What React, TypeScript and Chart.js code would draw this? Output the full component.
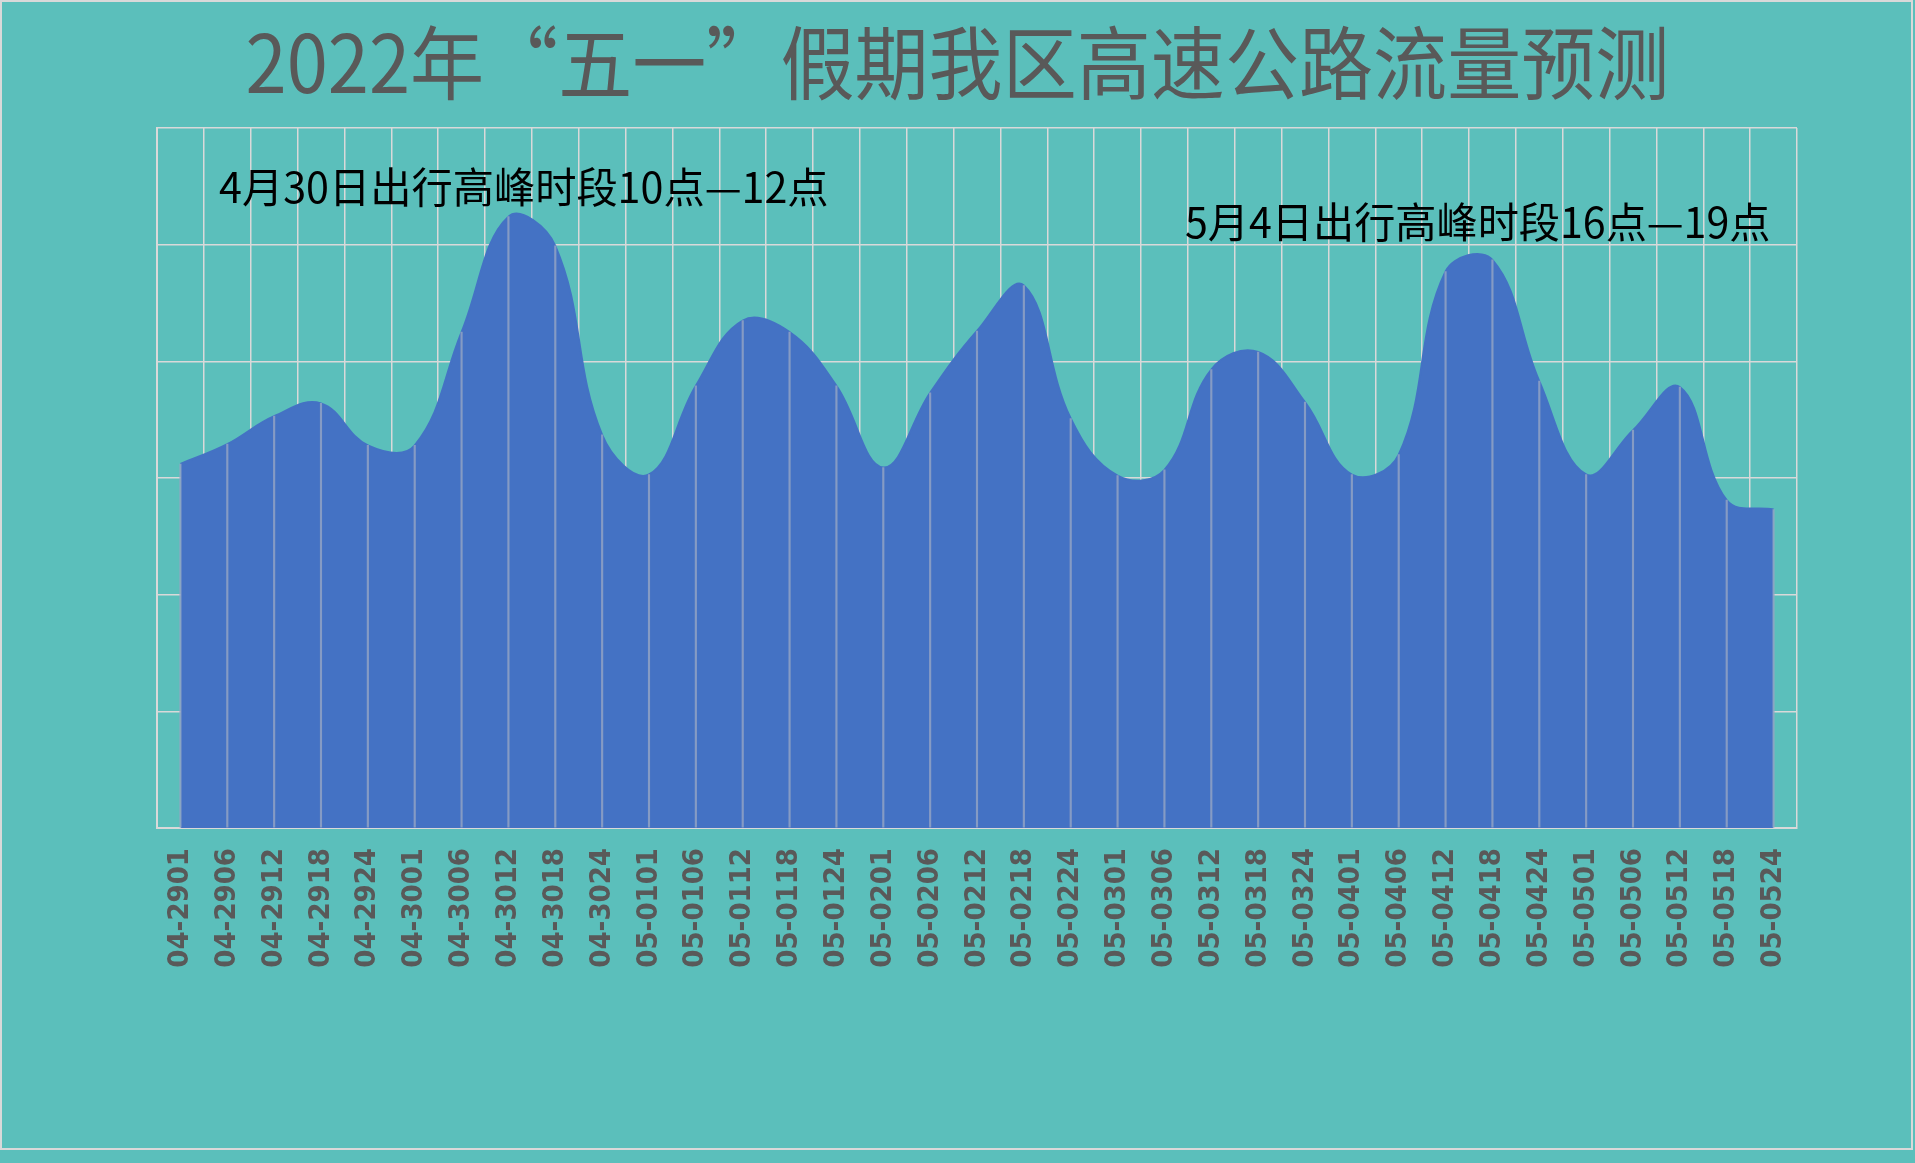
import React, { useEffect, useRef } from "react";
import { Chart, registerables } from "chart.js";

Chart.register(...registerables);

const titleText = "2022年“五一”假期我区高速公路流量预测";
const noteLeft = "4月30日出行高峰时段10点—12点";
const noteRight = "5月4日出行高峰时段16点—19点";

const categories = [
  "04-2901", "04-2906", "04-2912", "04-2918", "04-2924",
  "04-3001", "04-3006", "04-3012", "04-3018", "04-3024",
  "05-0101", "05-0106", "05-0112", "05-0118", "05-0124",
  "05-0201", "05-0206", "05-0212", "05-0218", "05-0224",
  "05-0301", "05-0306", "05-0312", "05-0318", "05-0324",
  "05-0401", "05-0406", "05-0412", "05-0418", "05-0424",
  "05-0501", "05-0506", "05-0512", "05-0518", "05-0524",
];

const flowValues = [
  31.2, 32.9, 35.3, 36.4, 32.8,
  32.8, 42.5, 52.4, 49.9, 33.7,
  30.3, 37.9, 43.5, 42.5, 37.9,
  30.9, 37.3, 42.6, 46.5, 35.1,
  30.2, 30.7, 39.3, 40.8, 36.5,
  30.3, 32.0, 47.7, 48.7, 38.3,
  30.3, 34.1, 37.8, 28.1, 27.3,
];

const yMin = 0;
const yMax = 60;
const yStep = 10;

const W = 1915;
const H = 1163;
const BG = "#5BBFBB";

export default function App() {
  const canvasRef = useRef<HTMLCanvasElement | null>(null);

  useEffect(() => {
    document.body.style.background = BG;
    const canvas = canvasRef.current;
    if (!canvas) return;
    const chart = new Chart(canvas, {
      type: "line",
      data: {
        labels: categories,
        datasets: [
          {
            type: "line",
            label: "流量",
            data: flowValues,
            borderColor: "#4472C4",
            backgroundColor: "#4472C4",
            borderWidth: 2,
            fill: "origin",
            tension: 0.4,
            pointRadius: 0,
            order: 1,
          },
          {
            type: "bar",
            label: "drop",
            data: flowValues,
            backgroundColor: "rgba(150,165,196,0.8)",
            barThickness: 1.5,
            order: 0,
          } as any,
        ],
      },
      options: {
        responsive: false,
        animation: false,
        devicePixelRatio: 1,
        layout: { padding: { top: 128, right: 118, left: 0, bottom: 0 } },
        plugins: {
          legend: { display: false },
          tooltip: { enabled: false },
          title: { display: false },
        },
        scales: {
          x: {
            offset: true,
            grid: {
              offset: true,
              color: "#D9D9D9",
              lineWidth: 1.5,
              drawTicks: false,
            },
            border: { display: true, color: "#D9D9D9", width: 2 },
            ticks: {
              autoSkip: false,
              maxRotation: 90,
              minRotation: 90,
              padding: 20,
              color: "#595959",
              font: { family: "'DejaVu Sans Condensed', 'DejaVu Sans'", size: 29, weight: "bold" },
            },
            afterFit: (scale: any) => {
              scale.height = H - 828;
            },
          },
          y: {
            min: yMin,
            max: yMax,
            grid: { color: "#D9D9D9", lineWidth: 1.5, drawTicks: false },
            border: { display: true, color: "#D9D9D9", width: 2 },
            ticks: { stepSize: yStep, display: false },
            afterFit: (scale: any) => {
              scale.width = 157;
            },
          },
        },
      },
    });
    return () => chart.destroy();
  }, []);

  return (
    <div
      style={{
        position: "absolute",
        left: 0,
        top: 0,
        width: W,
        height: H,
        background: BG,
        overflow: "hidden",
      }}
    >
      <div
        style={{
          position: "absolute",
          left: 0,
          top: 0,
          width: 1913,
          height: 1150,
          boxSizing: "border-box",
          border: "2px solid #D9D9D9",
        }}
      />
      <canvas
        ref={canvasRef}
        width={W}
        height={H}
        style={{ position: "absolute", left: 0, top: 0, width: W, height: H }}
      />
      <div
        style={{
          position: "absolute",
          left: 0,
          top: 18,
          width: W,
          textAlign: "center",
          fontFamily: "'Noto Sans CJK SC', sans-serif",
          fontSize: 80,
          lineHeight: "80px",
          color: "#595959",
          whiteSpace: "nowrap",
          transform: "scaleX(0.926)",
          transformOrigin: "center",
        }}
      >
        {titleText}
      </div>
      <div
        style={{
          position: "absolute",
          left: 219,
          top: 164,
          fontFamily: "'Noto Sans CJK SC', sans-serif",
          fontSize: 42,
          lineHeight: "42px",
          color: "#000000",
          whiteSpace: "nowrap",
          transform: "scaleX(0.982)",
          transformOrigin: "left center",
        }}
      >
        {noteLeft}
      </div>
      <div
        style={{
          position: "absolute",
          left: 1185,
          top: 199,
          fontFamily: "'Noto Sans CJK SC', sans-serif",
          fontSize: 42,
          lineHeight: "42px",
          color: "#000000",
          whiteSpace: "nowrap",
          transform: "scaleX(0.98)",
          transformOrigin: "left center",
        }}
      >
        {noteRight}
      </div>
    </div>
  );
}
